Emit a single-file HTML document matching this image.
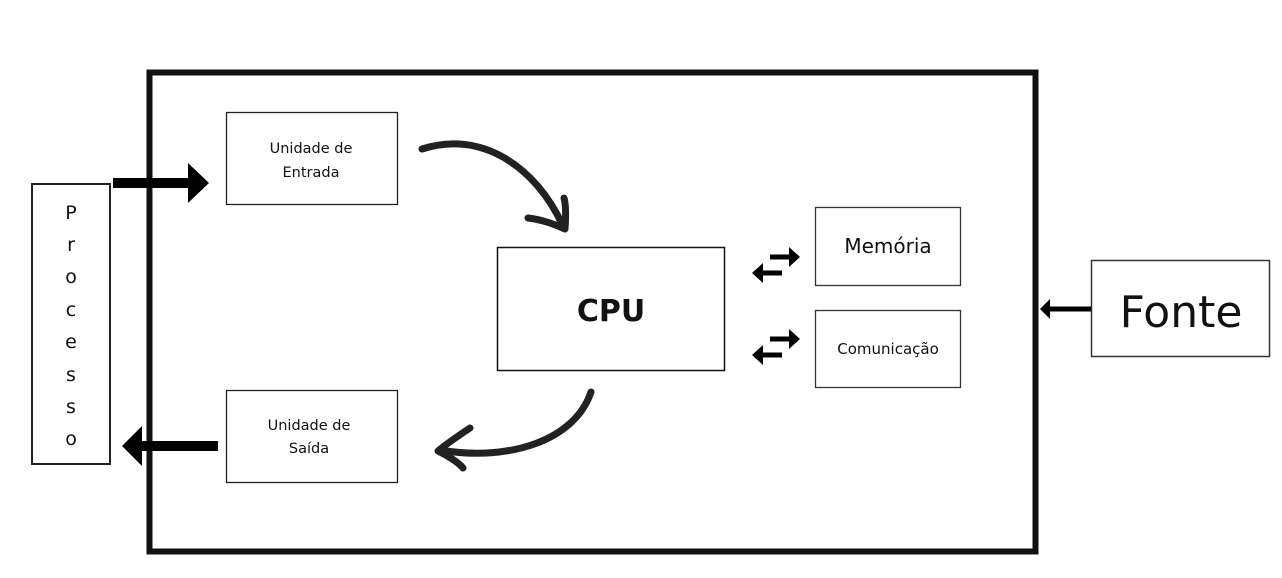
<!DOCTYPE html>
<html><head><meta charset="utf-8"><style>
html,body{margin:0;padding:0;background:#fff;width:1282px;height:578px;overflow:hidden}
svg{display:block}
text{font-family:"DejaVu Sans","Liberation Sans",sans-serif;fill:#111}
</style></head><body>
<svg width="1282" height="578" viewBox="0 0 1282 578" xmlns="http://www.w3.org/2000/svg">
<rect x="149.5" y="72.5" width="886" height="479" fill="none" stroke="#111" stroke-width="6"/>
<rect x="32" y="184" width="78" height="280" fill="#fff" stroke="#222" stroke-width="2"/>
<g font-size="19" text-anchor="middle">
<text x="71" y="219">P</text><text x="71" y="251">r</text><text x="71" y="283">o</text><text x="71" y="316">c</text>
<text x="71" y="348">e</text><text x="71" y="381">s</text><text x="71" y="413">s</text><text x="71" y="445">o</text>
</g>
<rect x="113" y="178" width="78" height="10" fill="#000"/>
<polygon points="188,163 209,183 188,203" fill="#000"/>
<rect x="138" y="441" width="80" height="10" fill="#000"/>
<polygon points="142,426 122,446 142,466" fill="#000"/>
<rect x="226.5" y="112.5" width="171" height="92" fill="#fff" stroke="#222" stroke-width="1.3"/>
<text x="311" y="153" font-size="14.5" text-anchor="middle">Unidade de</text>
<text x="311" y="177" font-size="14.5" text-anchor="middle">Entrada</text>
<rect x="226.5" y="390.5" width="171" height="92" fill="#fff" stroke="#222" stroke-width="1.3"/>
<text x="309" y="430" font-size="14.5" text-anchor="middle">Unidade de</text>
<text x="309" y="453" font-size="14.5" text-anchor="middle">Saída</text>
<rect x="497.5" y="247.5" width="227" height="123" fill="#fff" stroke="#111" stroke-width="1.5"/>
<text x="611" y="321" font-size="30" font-weight="bold" text-anchor="middle" fill="#000">CPU</text>
<rect x="815.5" y="207.5" width="145" height="78" fill="#fff" stroke="#333" stroke-width="1.3"/>
<text x="888" y="253" font-size="20" text-anchor="middle">Memória</text>
<rect x="815.5" y="310.5" width="145" height="77" fill="#fff" stroke="#333" stroke-width="1.3"/>
<text x="888" y="354" font-size="15" text-anchor="middle">Comunicação</text>
<rect x="1091.5" y="260.5" width="178" height="96" fill="#fff" stroke="#333" stroke-width="1.5"/>
<text x="1181" y="327" font-size="44" text-anchor="middle">Fonte</text>
<rect x="1048" y="306.5" width="43" height="5" fill="#000"/>
<polygon points="1050,299 1040,309 1050,319" fill="#000"/>
<g fill="#000">
<rect x="770" y="254.5" width="22" height="5"/><polygon points="789,247 800,257 789,267"/>
<rect x="762" y="270.5" width="20" height="5"/><polygon points="763,263 752,273 763,283"/>
<rect x="770" y="336.5" width="22" height="5"/><polygon points="789,329 800,339 789,349"/>
<rect x="762" y="352.5" width="20" height="5"/><polygon points="763,345 752,355 763,365"/>
</g>
<g fill="none" stroke="#222" stroke-width="7" stroke-linecap="round" stroke-linejoin="round">
<path d="M422,149 C480,130 535,165 563,226"/>
<path d="M528,218 C545,220 558,226 565,229 C566,215 566,205 564,198"/>
<path d="M591,392 C575,440 510,462 440,450"/>
<path d="M470,428 C455,438 445,445 438,451 C448,456 458,462 463,468"/>
</g>
</svg>
</body></html>
